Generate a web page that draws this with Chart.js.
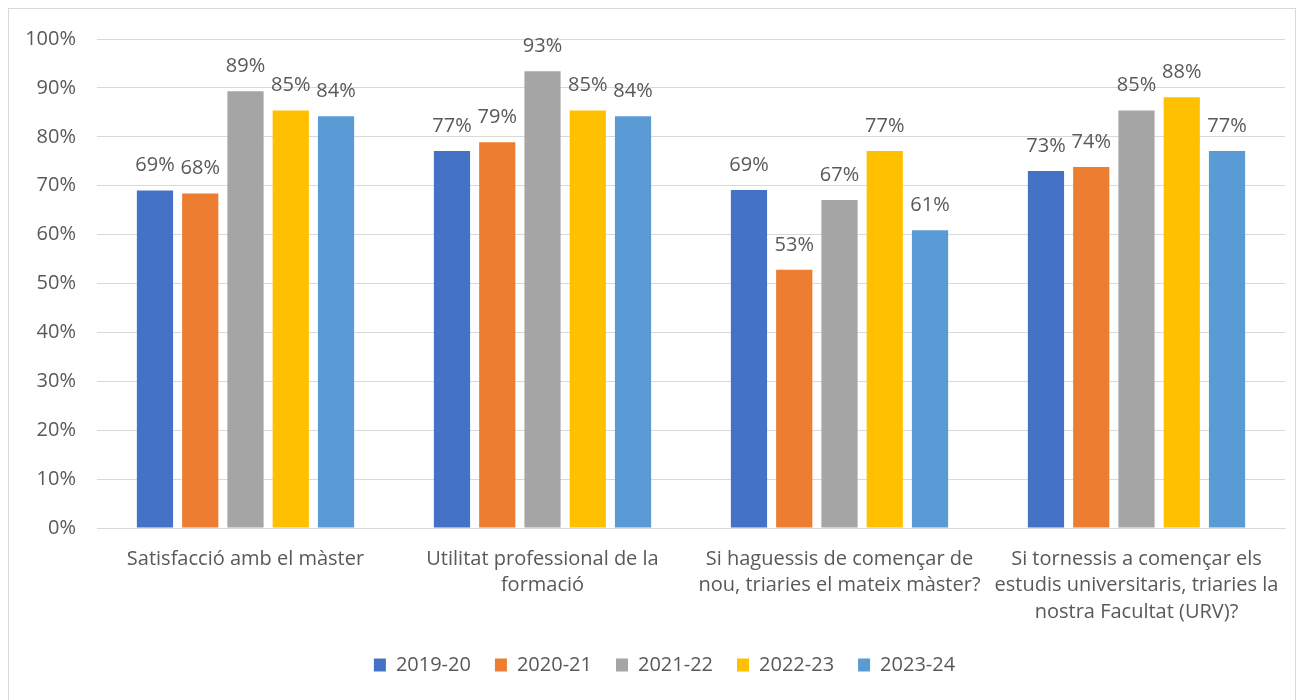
<!DOCTYPE html>
<html>
<head>
<meta charset="utf-8">
<script src="https://cdn.jsdelivr.net/npm/chart.js@4.4.1/dist/chart.umd.min.js"></script>
<style>
  body { margin: 0; background: #fff; }
  #wrap { position: relative; width: 1301px; height: 700px; overflow: hidden; }
  #frame { position: absolute; left: 8px; top: 8px; width: 1288px; height: 700px; border: 1px solid #d9d9d9; box-sizing: border-box; }
  canvas { position: absolute; left: 0; top: 0; }
</style>
</head>
<body>
<div id="wrap">
  <div id="frame"></div>
  <canvas id="chart" width="1301" height="700"></canvas>
</div>
<script>
// categories (multi-line labels, as in the original)
const categories = [
    ['Satisfacció amb el màster'],
    ['Utilitat professional de la', 'formació'],
    ['Si haguessis de començar de', 'nou, triaries el mateix màster?'],
    ['Si tornessis a començar els', 'estudis universitaris, triaries la', 'nostra Facultat (URV)?']
];

const seriesNames = ['2019-20', '2020-21', '2021-22', '2022-23', '2023-24'];
const seriesColors = ['#4472C4', '#ED7D31', '#A5A5A5', '#FFC000', '#5B9BD5'];

// percent values per course year
const s2019 = [69.0, 77.1, 69.1, 73.0];
const s2020 = [68.4, 78.9, 52.8, 73.8];
const s2021 = [89.3, 93.4, 67.1, 85.4];
const s2022 = [85.4, 85.4, 77.1, 88.1];
const s2023 = [84.2, 84.2, 60.9, 77.1];

const yTicks = [0, 10, 20, 30, 40, 50, 60, 70, 80, 90, 100];

const FONT = '"Open Sans", sans-serif';
const TEXT = '#595959';
const SIZE = 20;

const allSeries = [s2019, s2020, s2021, s2022, s2023];

// labels above each bar
const valueLabels = {
    id: 'valueLabels',
    afterLayout(chart) {
        // legend in the original sits a little right of the canvas centre
        chart.legend.left += 12;
        chart.legend.right += 12;
    },
    afterDatasetsDraw(chart) {
        const ctx = chart.ctx;
        ctx.save();
        ctx.font = SIZE + 'px ' + FONT;
        ctx.fillStyle = TEXT;
        ctx.textAlign = 'center';
        ctx.textBaseline = 'middle';
        chart.data.datasets.forEach(function(ds, i) {
            chart.getDatasetMeta(i).data.forEach(function(bar, j) {
                ctx.fillText(Math.round(ds.data[j]) + '%', bar.x, bar.y - 25);
            });
        });
        ctx.restore();
    }
};

new Chart(document.getElementById('chart'), {
    type: 'bar',
    data: {
        labels: categories,
        datasets: allSeries.map(function(vals, i) {
            return {
                label: seriesNames[i],
                data: vals,
                backgroundColor: seriesColors[i],
                categoryPercentage: 0.762,
                barPercentage: 0.8
            };
        })
    },
    options: {
        responsive: false,
        animation: false,
        layout: { padding: { left: 20, right: 16, top: 39, bottom: 15 } },
        plugins: {
            legend: {
                position: 'bottom',
                labels: {
                    font: { family: FONT, size: SIZE },
                    color: TEXT,
                    boxWidth: 12,
                    boxHeight: 13,
                    padding: 24
                }
            },
            tooltip: { enabled: false }
        },
        scales: {
            x: {
                grid: { display: false },
                border: { color: '#d9d9d9' },
                ticks: {
                    font: { family: FONT, size: SIZE, lineHeight: 1.32 },
                    color: TEXT,
                    maxRotation: 0,
                    padding: 10
                },
                afterFit: function(scale) { scale.height = 103; }
            },
            y: {
                min: 0,
                max: 100,
                afterBuildTicks: function(scale) {
                    scale.ticks = yTicks.map(function(v) { return { value: v }; });
                },
                grid: { color: '#d9d9d9', drawTicks: false },
                border: { display: false },
                ticks: {
                    font: { family: FONT, size: SIZE },
                    color: TEXT,
                    padding: 21,
                    callback: function(v) { return v + '%'; }
                },
                afterFit: function(scale) { scale.width = 77; }
            }
        }
    },
    plugins: [valueLabels]
});
</script>
</body>
</html>
